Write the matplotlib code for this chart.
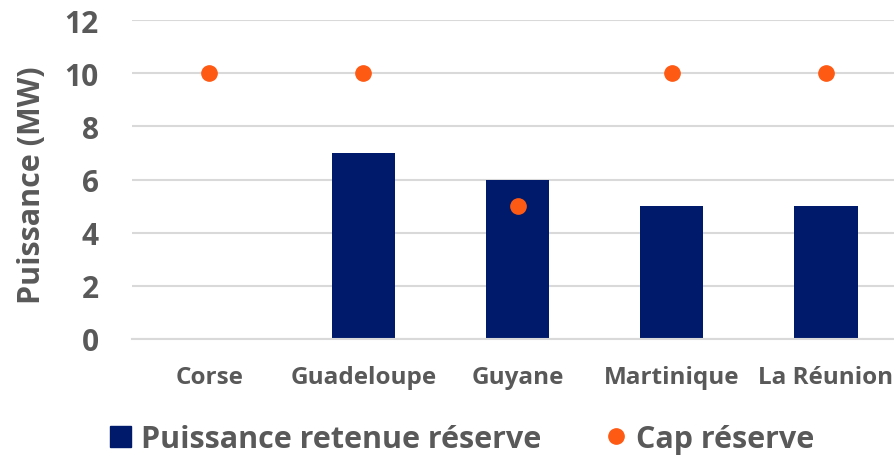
import numpy as np
import matplotlib
matplotlib.use("Agg")
import matplotlib.pyplot as plt
from matplotlib.lines import Line2D
from matplotlib.patches import Patch

plt.rcParams['font.family'] = ['Open Sans', 'DejaVu Sans']
plt.rcParams['font.weight'] = 'bold'

regions = ["Corse", "Guadeloupe", "Guyane", "Martinique", "La Réunion"]
puissance = [0, 7, 6, 5, 5]
cap = [10, 10, 5, 10, 10]

txt = "#595959"
bar_col = "#001A6B"
dot_col = "#FF5A14"

fig = plt.figure(figsize=(8.95, 4.6), dpi=100)
ax = fig.add_axes([132/895, 120/460, 771/895, 319/460])

x = np.arange(len(regions))
ax.bar(x, puissance, width=0.41, color=bar_col, zorder=2)
ax.plot(x, cap, linestyle="none", marker="o", markersize=11, color=dot_col, zorder=3)

ax.set_xlim(-0.5, len(regions) - 0.5)
ax.set_ylim(0, 12)
ax.set_yticks(range(0, 13, 2))
ax.grid(axis="y", color="#D9D9D9", linewidth=1.5, zorder=0)
ax.set_axisbelow(True)
for s in ["top", "right", "left"]:
    ax.spines[s].set_visible(False)
ax.spines["bottom"].set_color("#D9D9D9")
ax.spines["bottom"].set_linewidth(1.5)

ax.set_xticks(x)
ax.set_xticklabels(regions, fontsize=17.5, color=txt, fontweight="bold")
ax.tick_params(axis="x", length=0, pad=19)
ax.tick_params(axis="y", length=0, pad=24, labelsize=21.5, labelcolor=txt)
for t in ax.get_yticklabels():
    t.set_fontweight("bold")

fig.text(32/895, 1 - 185/460, "Puissance (MW)", rotation=90, ha="center", va="center",
         fontsize=22, color=txt, fontweight="bold")

handles = [Patch(facecolor=bar_col, edgecolor=bar_col),
           Line2D([], [], linestyle="none", marker="o", markersize=11, color=dot_col)]
leg = fig.legend(handles, ["Puissance retenue réserve", "Cap réserve"], ncol=2,
                 loc="center", bbox_to_anchor=(462/895, 1 - 440/460), frameon=False,
                 fontsize=22, handlelength=0.7, handletextpad=0.3, columnspacing=2.1)
for t in leg.get_texts():
    t.set_color(txt)
    t.set_fontweight("bold")

fig.savefig("out.png", dpi=100)
